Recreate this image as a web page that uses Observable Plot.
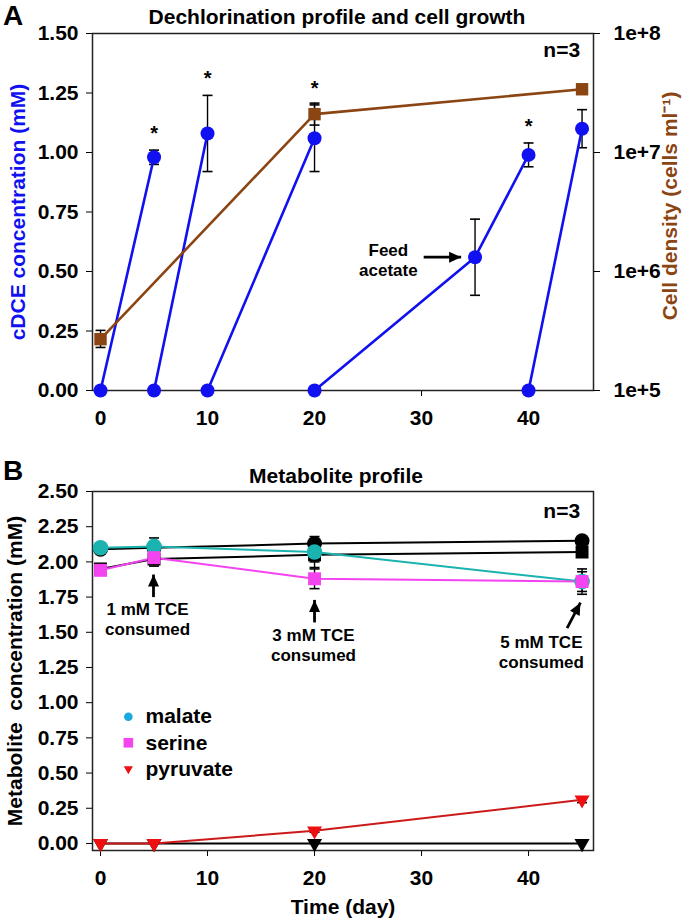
<!DOCTYPE html>
<html><head><meta charset="utf-8">
<script src="https://cdn.jsdelivr.net/npm/d3@7"></script>
<script src="https://cdn.jsdelivr.net/npm/@observablehq/plot@0.6"></script>
<style>
body{margin:0;background:#fff;}
#fig{position:relative;width:685px;height:920px;font-family:"Liberation Sans",Arial,sans-serif;font-weight:bold;color:#000;overflow:hidden;}
.abs{position:absolute;line-height:1;white-space:nowrap;}
.layer{position:absolute;left:0;}
.layer svg{display:block;}
</style></head><body><div id="fig"></div>
<script>
// ---------- Data: panel A (dechlorination) ----------
const xTicks = [0, 10, 20, 30, 40];
const cdceTicks = [0, 0.25, 0.5, 0.75, 1.0, 1.25, 1.5];
const cellTicks = [1e5, 1e6, 1e7, 1e8];
const cdceDay  = [0, 5, 5, 10, 10, 20, 20, 35, 40, 40, 45];
const cdceRun  = [1, 1, 2, 2, 3, 3, 4, 4, 4, 5, 5];
const cdceMean = [0, 0.98, 0, 1.08, 0, 1.06, 0, 0.56, 0.99, 0, 1.10];
const cdceSD   = [0, 0.03, 0, 0.16, 0, 0.14, 0, 0.16, 0.05, 0, 0.08];
const cdceStar = [false, true, false, true, false, true, false, false, true, false, false];
const cellDay  = [0, 20, 45];
const cellMean = [2.7e5, 2.1e7, 3.4e7];
const cellLow  = [2.3e5, 1.7e7, null];
const cellHigh = [3.2e5, 2.6e7, null];

// ---------- Data: panel B (metabolites) ----------
const metTicks = [0, 0.25, 0.5, 0.75, 1.0, 1.25, 1.5, 1.75, 2.0, 2.25, 2.5];
const metDay = [0, 5, 20, 45];
const ctrlMalate   = [2.09, 2.10, 2.13, 2.15];
const ctrlMalateSD = [0.02, 0.07, 0.05, 0.02];
const ctrlSerine   = [1.95, 2.02, 2.05, 2.07];
const ctrlSerineSD = [0.02, 0.05, 0.09, 0.02];
const ctrlPyruvate = [0, 0, 0, 0];
const ctrlPyruvateSD = [0, 0, 0, 0];
const malate   = [2.10, 2.11, 2.07, 1.86];
const malateSD = [0.03, 0.03, 0.07, 0.09];
const serine   = [1.94, 2.03, 1.88, 1.86];
const serineSD = [0.02, 0.03, 0.07, 0.07];
const pyruvate   = [0, 0, 0.09, 0.31];
const pyruvateSD = [0, 0, 0.01, 0.02];
const legendNames = ["malate", "serine", "pyruvate"];

// ---------- Annotations (data coordinates) ----------
const annA = [{day: 26.9, v: 0.55, text: "Feed\nacetate"}];
const nLabelA = [{day: 43.1, v: 1.43, text: "n=3"}];
const nLabelB = [{day: 43.1, v: 2.36, text: "n=3"}];
const arrowA = [{x1: 30.2, y1: 0.56, x2: 33.7, y2: 0.56}];
const annB = [
  {day: 4.4, v: 1.60, text: "1 mM TCE\nconsumed"},
  {day: 19.9, v: 1.41, text: "3 mM TCE\nconsumed"},
  {day: 41.2, v: 1.365, text: "5 mM TCE\nconsumed"}
];
const arrowB = [
  {x1: 4.95, y1: 1.75, x2: 4.95, y2: 1.91},
  {x1: 20, y1: 1.57, x2: 20, y2: 1.73},
  {x1: 43.6, y1: 1.53, x2: 44.85, y2: 1.71}
];
const legendPos = {markDay: 2.6, textDay: 4.2, v: [0.90, 0.715, 0.53]};

// ---------- Styling / layout ----------
const W = 685;
const ML = 92, MR = 92;
const A = {height: 445, top: 33, bottom: 55, domain: [0, 1.5]};
const B = {height: 475, top: 46, bottom: 70, domain: [-0.05, 2.5]};
const xDomain = [-0.75, 46.07];
const BLUE = "#1010f0", BROWN = "#8b4513", CYAN = "#1bb3b0", PINK = "#f444f0", RED = "#ee1010", REDLINE = "#cc1a1a";
const FONT = '"Liberation Sans", Arial, sans-serif';
const baseStyle = {fontFamily: FONT, fontWeight: "bold", fontSize: "21px", color: "#000", background: "transparent", overflow: "visible"};
const cap = {draw(ctx) { ctx.moveTo(-5, 0); ctx.lineTo(5, 0); }};
const head = {draw(ctx) { ctx.moveTo(0, 0); ctx.lineTo(-5.5, 12); ctx.lineTo(5.5, 12); ctx.closePath(); }};
function errorMarks(data, x, lo, hi) {
  return [
    Plot.ruleX(data, {x, y1: lo, y2: hi, stroke: "#000", strokeWidth: 1.4}),
    Plot.dot(data, {x, y: lo, symbol: cap, stroke: "#000", strokeWidth: 1.6}),
    Plot.dot(data, {x, y: hi, symbol: cap, stroke: "#000", strokeWidth: 1.6})
  ];
}
// arrow = line + filled head, head rotated to the on-screen direction
function arrowMarks(data, P) {
  const kx = (W - ML - MR) / (xDomain[1] - xDomain[0]);
  const ky = (P.height - P.top - P.bottom) / (P.domain[1] - P.domain[0]);
  const ang = d => Math.atan2((d.x2 - d.x1) * kx, (d.y2 - d.y1) * ky) * 180 / Math.PI;
  return [
    Plot.link(data, {x1: "x1", y1: "y1", x2: "x2", y2: "y2", stroke: "#000", strokeWidth: 2.8}),
    Plot.dot(data, {x: "x2", y: "y2", symbol: head, fill: "#000", stroke: "none", rotate: ang})
  ];
}

// ---------- Panel A ----------
const cdce = cdceDay.map((d, i) => ({day: d, run: cdceRun[i], mean: cdceMean[i], sd: cdceSD[i], star: cdceStar[i]}));
const cdceErr = cdce.filter(d => d.sd > 0);
const cells = cellDay.map((d, i) => ({day: d, mean: cellMean[i], low: cellLow[i], high: cellHigh[i]}));
const cellErr = cells.filter(d => d.low != null);

const plotA = Plot.plot({
  width: W, height: A.height, marginTop: A.top, marginBottom: A.bottom, marginLeft: ML, marginRight: MR,
  style: baseStyle,
  x: {domain: xDomain, ticks: xTicks, tickFormat: d => d, tickSize: 6, tickPadding: 14, label: null},
  y: {domain: A.domain, ticks: cdceTicks, tickFormat: d3.format(".2f"), tickSize: 6, tickPadding: 8, label: null},
  marks: [
    Plot.frame({stroke: "#222", strokeWidth: 1.5}),
    ...errorMarks(cdceErr, "day", d => d.mean - d.sd, d => d.mean + d.sd),
    Plot.line(cdce, {x: "day", y: "mean", z: "run", stroke: BLUE, strokeWidth: 2.6}),
    Plot.dot(cdce, {x: "day", y: "mean", r: 7, fill: BLUE}),
    Plot.text(cdce.filter(d => d.star), {x: "day", y: d => d.mean + d.sd, text: () => "*", dy: -10, fontSize: 20, lineAnchor: "bottom"}),
    Plot.text(annA, {x: "day", y: "v", text: "text", fontSize: 17, lineHeight: 1.15, fontWeight: "bold"}),
    Plot.text(nLabelA, {x: "day", y: "v", text: "text", fontSize: 21, fontWeight: "bold"}),
    ...arrowMarks(arrowA, A),
    Plot.text(["cDCE concentration (mM)"], {frameAnchor: "left", textAnchor: "middle", lineAnchor: "middle", rotate: -90, dx: -74, text: d => d, fill: BLUE, fontSize: 21, fontWeight: "bold"})
  ]
});

const plotA2 = Plot.plot({
  width: W, height: A.height, marginTop: A.top, marginBottom: A.bottom, marginLeft: ML, marginRight: MR,
  style: baseStyle,
  x: {domain: xDomain, axis: null},
  y: {type: "log", domain: [1e5, 1e8], ticks: cellTicks, tickFormat: d => "1e+" + Math.round(Math.log10(d)), axis: "right", tickSize: 6, tickPadding: 14, label: null},
  marks: [
    ...errorMarks(cellErr, "day", "low", "high"),
    Plot.line(cells, {x: "day", y: "mean", stroke: BROWN, strokeWidth: 2.6}),
    Plot.dot(cells, {x: "day", y: "mean", symbol: "square", r: 7, fill: BROWN}),
    Plot.text(["Cell density (cells ml\u207B\u00B9)"], {frameAnchor: "right", textAnchor: "middle", lineAnchor: "middle", rotate: -90, dx: 77, dy: -6, text: d => d, fill: BROWN, fontSize: 21, fontWeight: "bold"})
  ]
});

// ---------- Panel B ----------
const seriesDefs = [
  {key: "ctrlMalate", vals: ctrlMalate, sd: ctrlMalateSD, color: "#000", line: "#000", symbol: "circle", r: 7.5, rotate: 0},
  {key: "ctrlSerine", vals: ctrlSerine, sd: ctrlSerineSD, color: "#000", line: "#000", symbol: "square", r: 7.3, rotate: 0},
  {key: "ctrlPyruvate", vals: ctrlPyruvate, sd: ctrlPyruvateSD, color: "#000", line: "#000", symbol: "triangle", r: 5.6, rotate: 180},
  {key: "malate", vals: malate, sd: malateSD, color: CYAN, line: CYAN, symbol: "circle", r: 7.8, rotate: 0},
  {key: "serine", vals: serine, sd: serineSD, color: PINK, line: PINK, symbol: "square", r: 7.3, rotate: 0},
  {key: "pyruvate", vals: pyruvate, sd: pyruvateSD, color: RED, line: REDLINE, symbol: "triangle", r: 5.6, rotate: 180}
];
const met = seriesDefs.flatMap(s => metDay.map((d, i) => ({key: s.key, day: d, v: s.vals[i], sd: s.sd[i]})));
const metErr = met.filter(d => d.sd > 0);
const legendRows = legendNames.map((n, i) => ({name: n, v: legendPos.v[i]}));
const legendStyle = {malate: {symbol: "circle", r: 4.3, fill: "#1aa8e0", rotate: 0}, serine: {symbol: "square", r: 5.4, fill: PINK, rotate: 0}, pyruvate: {symbol: "triangle", r: 3.4, fill: RED, rotate: 180}};

const plotB = Plot.plot({
  width: W, height: B.height, marginTop: B.top, marginBottom: B.bottom, marginLeft: ML, marginRight: MR,
  style: baseStyle,
  x: {domain: xDomain, ticks: xTicks, tickFormat: d => d, tickSize: 6, tickPadding: 14, label: null},
  y: {domain: B.domain, ticks: metTicks, tickFormat: d3.format(".2f"), tickSize: 6, tickPadding: 8, label: null},
  marks: [
    Plot.frame({stroke: "#222", strokeWidth: 1.5}),
    ...errorMarks(metErr, "day", d => d.v - d.sd, d => d.v + d.sd),
    ...seriesDefs.map(s => Plot.line(met.filter(d => d.key === s.key), {x: "day", y: "v", stroke: s.line, strokeWidth: 2})),
    ...seriesDefs.map(s => Plot.dot(met.filter(d => d.key === s.key), {x: "day", y: "v", symbol: s.symbol, r: s.r, rotate: s.rotate, fill: s.color})),
    ...legendNames.map(n => Plot.dot(legendRows.filter(d => d.name === n), {x: () => legendPos.markDay, y: "v", ...legendStyle[n]})),
    Plot.text(legendRows, {x: () => legendPos.textDay, y: "v", text: "name", textAnchor: "start", fontSize: 21, fontWeight: "bold"}),
    Plot.text(annB, {x: "day", y: "v", text: "text", fontSize: 17, lineHeight: 1.18, fontWeight: "bold"}),
    ...arrowMarks(arrowB, B),
    Plot.text(nLabelB, {x: "day", y: "v", text: "text", fontSize: 21, fontWeight: "bold"}),
    Plot.text(["Metabolite  concentration (mM)"], {frameAnchor: "left", textAnchor: "middle", lineAnchor: "middle", rotate: -90, dx: -77, text: d => d, fill: "#000", fontSize: 21, fontWeight: "bold"}),
    Plot.text(["Time (day)"], {frameAnchor: "bottom", lineAnchor: "middle", dy: 57, text: d => d, fontSize: 21, fontWeight: "bold"})
  ]
});

// ---------- Assemble ----------
const fig = document.getElementById("fig");
function layer(node, top) { const d = document.createElement("div"); d.className = "layer"; d.style.top = top + "px"; d.appendChild(node); fig.appendChild(d); }
layer(plotA, 0);
layer(plotA2, 0);
layer(plotB, A.height);
function label(txt, css) { const d = document.createElement("div"); d.className = "abs"; d.textContent = txt; Object.assign(d.style, css); fig.appendChild(d); }
label("A", {left: "3px", top: "2px", fontSize: "28px"});
label("B", {left: "3px", top: "457px", fontSize: "28px"});
label("Dechlorination profile and cell growth", {left: "337px", top: "6px", fontSize: "21px", transform: "translateX(-50%)"});
label("Metabolite profile", {left: "336px", top: "465px", fontSize: "21px", transform: "translateX(-50%)"});
</script></body></html>
